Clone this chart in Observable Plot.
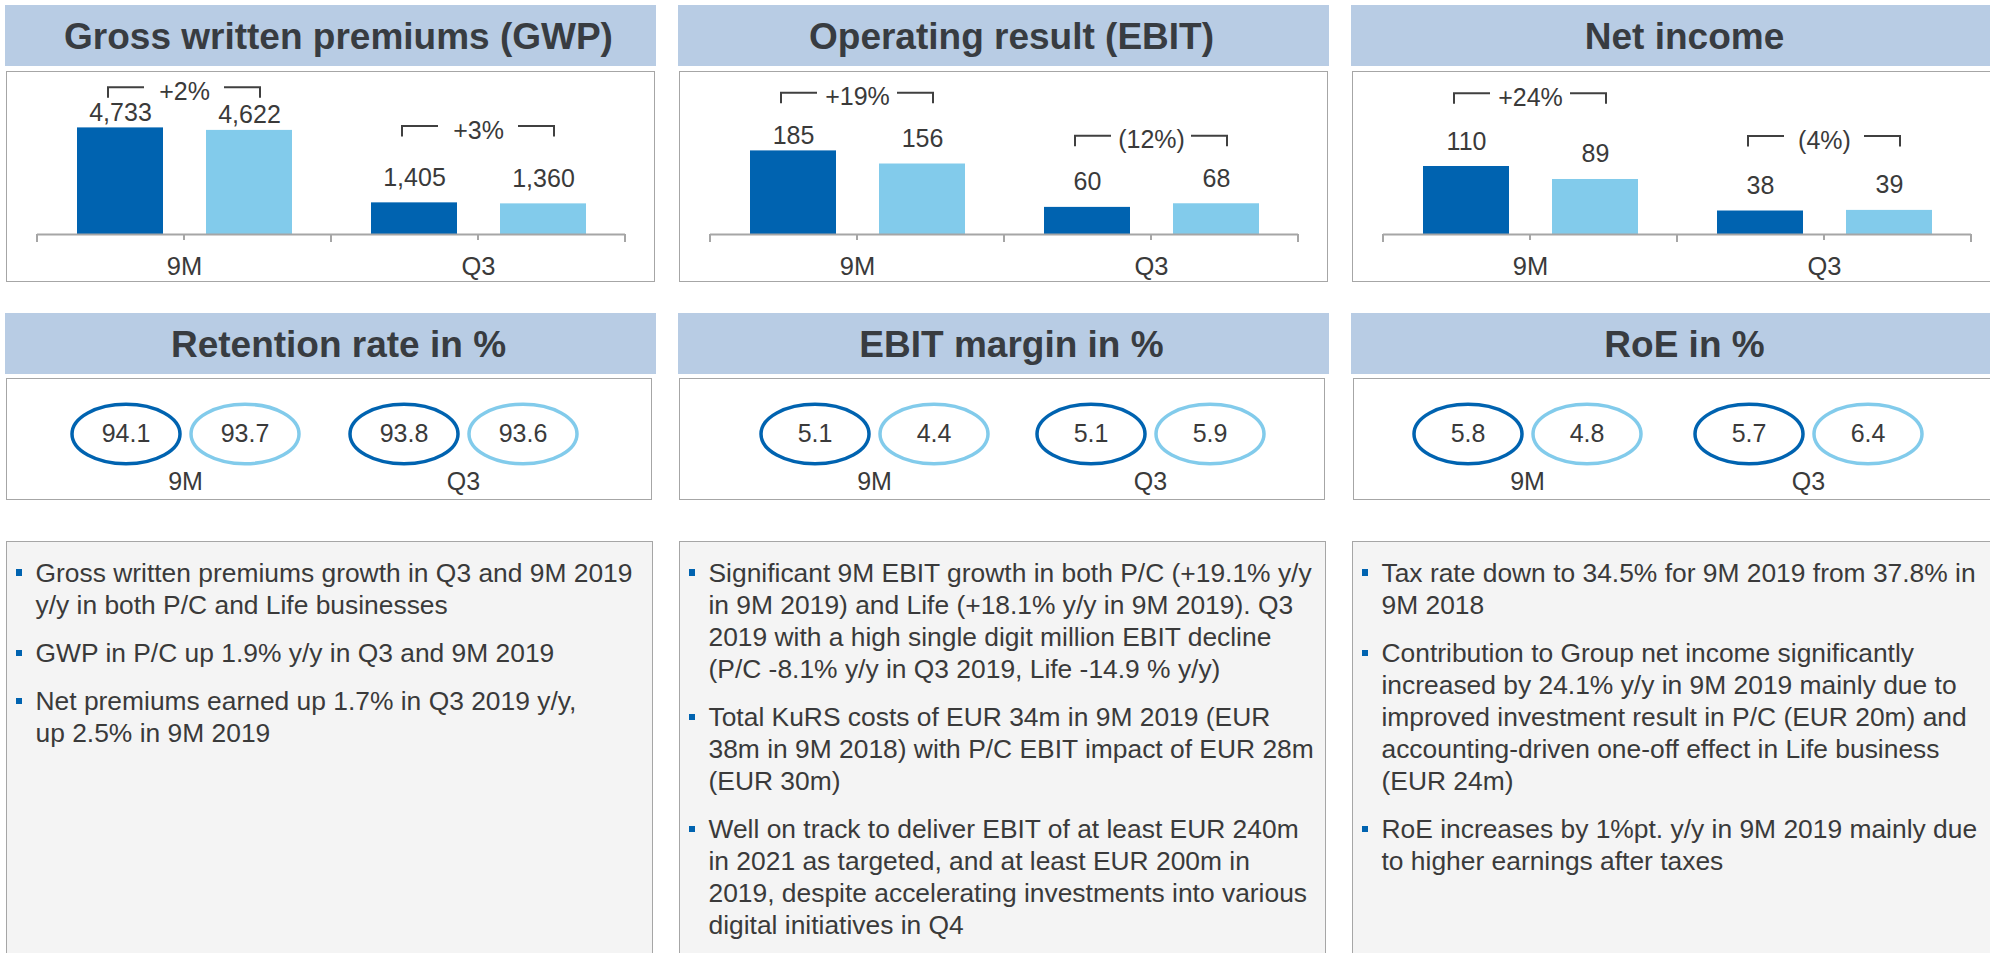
<!DOCTYPE html>
<html>
<head>
<meta charset="utf-8">
<script src="https://cdn.jsdelivr.net/npm/d3@7"></script>
<script src="https://cdn.jsdelivr.net/npm/@observablehq/plot@0.6"></script>
<style>
  html, body { margin: 0; padding: 0; background: #ffffff; }
  body { width: 1990px; height: 953px; overflow: hidden; position: relative;
         font-family: "Liberation Sans", Arial, Helvetica, sans-serif; color: #3a3a3a; }
  .titlebar { position: absolute; height: 61px; width: 651px; background: #b8cce4; color: #383c41;
              font-weight: bold; font-size: 37px; line-height: 64px; text-align: center;
              box-sizing: border-box; padding-left: 16px; white-space: nowrap; overflow: hidden; }
  .box { position: absolute; box-sizing: border-box; border: 1.5px solid #a6a6a6; background: #ffffff; }
  .box.notes { background: #f4f4f4; padding-top: 14.5px; }
  .chart { position: absolute; }
  .chart svg { display: block; overflow: visible; }
  .para { position: relative; padding-left: 28.5px; margin-bottom: 16.3px; font-size: 26.4px; line-height: 32px; color: #3a3a3a; }
  .para .line { white-space: nowrap; }
  .para .mark { position: absolute; left: 8.5px; top: 12.75px; width: 6.5px; height: 6.5px; background: #0063b0; }
</style>
</head>
<body>
<script>
// ---------------- data ----------------
const periods = ["9M", "Q3"];

const gwp2019 = [4733, 1405];
const gwp2018 = [4622, 1360];
const gwpChange = ["+2%", "+3%"];

const ebit2019 = [185, 60];
const ebit2018 = [156, 68];
const ebitChange = ["+19%", "(12%)"];

const netIncome2019 = [110, 38];
const netIncome2018 = [89, 39];
const netIncomeChange = ["+24%", "(4%)"];

const retention2019 = [94.1, 93.8];
const retention2018 = [93.7, 93.6];

const ebitMargin2019 = [5.1, 5.1];
const ebitMargin2018 = [4.4, 5.9];

const roe2019 = [5.8, 5.7];
const roe2018 = [4.8, 6.4];

const topTitles = ["Gross written premiums (GWP)", "Operating result (EBIT)", "Net income"];
const midTitles = ["Retention rate in %", "EBIT margin in %", "RoE in %"];

const gwpNotes = [
  ["Gross written premiums growth in Q3 and 9M 2019", "y/y in both P/C and Life businesses"],
  ["GWP in P/C up 1.9% y/y in Q3 and 9M 2019"],
  ["Net premiums earned up 1.7% in Q3 2019 y/y,", "up 2.5% in 9M 2019"]
];
const ebitNotes = [
  ["Significant 9M EBIT growth in both P/C (+19.1% y/y", "in 9M 2019) and Life (+18.1% y/y in 9M 2019). Q3",
   "2019 with a high single digit million EBIT decline", "(P/C -8.1% y/y in Q3 2019, Life -14.9 % y/y)"],
  ["Total KuRS costs of EUR 34m in 9M 2019 (EUR", "38m in 9M 2018) with P/C EBIT impact of EUR 28m", "(EUR 30m)"],
  ["Well on track to deliver EBIT of at least EUR 240m", "in 2021 as targeted, and at least EUR 200m in",
   "2019, despite accelerating investments into various", "digital initiatives in Q4"]
];
const netIncomeNotes = [
  ["Tax rate down to 34.5% for 9M 2019 from 37.8% in", "9M 2018"],
  ["Contribution to Group net income significantly", "increased by 24.1% y/y in 9M 2019 mainly due to",
   "improved investment result in P/C (EUR 20m) and", "accounting-driven one-off effect in Life business", "(EUR 24m)"],
  ["RoE increases by 1%pt. y/y in 9M 2019 mainly due", "to higher earnings after taxes"]
];

// ---------------- styles ----------------
const FONT = '"Liberation Sans", Arial, Helvetica, sans-serif';
const DARK = "#0063b0";
const LIGHT = "#82cbeb";
const TEXT = "#3a3a3a";
const AXIS = "#a6a6a6";
const INK = "#404040";

const colLeft = [5, 678, 1351];

function add(cls, left, top, width, height, parent = document.body) {
  const d = document.createElement("div");
  d.className = cls;
  d.style.left = left + "px";
  d.style.top = top + "px";
  if (width != null) d.style.width = width + "px";
  if (height != null) d.style.height = height + "px";
  parent.appendChild(d);
  return d;
}

function rows(cur, prev) {
  return periods.flatMap((p, i) => [
    {period: p, year: "2019", value: cur[i]},
    {period: p, year: "2018", value: prev[i]}
  ]);
}

// custom marks drawn from Plot's own x scale
function axisTicks(index, scales, values, dims) {
  const x = scales.x, bw = x.bandwidth(), y0 = dims.height - dims.marginBottom;
  const g = d3.create("svg:g").attr("stroke", AXIS).attr("stroke-width", 2).attr("fill", "none");
  const tick = (px, len) => g.append("line").attr("x1", px).attr("x2", px).attr("y1", y0).attr("y2", y0 + len);
  periods.forEach((p, i) => {
    const a = x(p);
    if (i === 0) tick(a, 8);
    tick(a + bw / 2, 6);
    tick(a + bw, 8);
  });
  return g.node();
}

function brackets(levels) {
  return (index, scales, values, dims) => {
    const x = scales.x, bw = x.bandwidth();
    const g = d3.create("svg:g").attr("stroke", INK).attr("stroke-width", 2).attr("fill", "none");
    periods.forEach(p => {
      const cx = x(p) + bw / 2, y0 = dims.marginTop + levels[p];
      g.append("path").attr("d",
        `M${cx - 76},${y0 + 10.5}V${y0}H${cx - 40}M${cx + 40},${y0}H${cx + 76}V${y0 + 10.5}`);
    });
    return g.node();
  };
}

function barChart(cfg) {
  const data = rows(cfg.cur, cfg.prev);
  const changes = periods.map((p, i) => ({period: p, label: cfg.change[i]}));
  const key = d => d.period + "-" + d.year;
  const labels = [];
  for (const [year, dx] of [["2019", -64], ["2018", 65]]) {
    const sub = data.filter(d => d.year === year);
    labels.push(Plot.text(sub, {filter: d => !cfg.tight.includes(key(d)), x: "period", y: "value",
      text: d => cfg.fmt(d.value), dx, dy: -17, lineAnchor: "bottom", fontSize: 25, fill: TEXT}));
    labels.push(Plot.text(sub, {filter: d => cfg.tight.includes(key(d)), x: "period", y: "value",
      text: d => cfg.fmt(d.value), dx, dy: -7, lineAnchor: "bottom", fontSize: 25, fill: TEXT}));
  }
  return Plot.plot({
    width: 649, height: 211,
    marginTop: 0, marginBottom: 48, marginLeft: 31, marginRight: 30,
    x: {domain: periods, padding: 0, axis: null},
    y: {domain: [0, cfg.yMax], axis: null},
    style: {fontFamily: FONT, background: "transparent", color: TEXT, overflow: "visible"},
    marks: [
      Plot.barY(data.filter(d => d.year === "2019"), {x: "period", y: "value", fill: DARK, insetLeft: 40, insetRight: 168}),
      Plot.barY(data.filter(d => d.year === "2018"), {x: "period", y: "value", fill: LIGHT, insetLeft: 169, insetRight: 39}),
      Plot.ruleY([0], {stroke: AXIS, strokeWidth: 2}),
      axisTicks,
      brackets(cfg.levels),
      ...periods.map(p => Plot.text(changes.filter(d => d.period === p), {x: "period", text: "label",
        frameAnchor: "top", lineAnchor: "bottom", dy: cfg.levels[p] + 12, fontSize: 25, fill: TEXT})),
      ...labels,
      Plot.text(periods, {x: d => d, text: d => d, frameAnchor: "bottom", lineAnchor: "bottom", dy: 40, fontSize: 25.5, fill: TEXT})
    ]
  });
}

// ellipse symbol for Plot.dot
const ASPECT = 1.815;
const ellipseSymbol = {
  draw(ctx, size) {
    const ry = Math.sqrt(size / Math.PI), rx = ry * ASPECT, k = 0.5522847;
    ctx.moveTo(rx, 0);
    ctx.bezierCurveTo(rx, k * ry, k * rx, ry, 0, ry);
    ctx.bezierCurveTo(-k * rx, ry, -rx, k * ry, -rx, 0);
    ctx.bezierCurveTo(-rx, -k * ry, -k * rx, -ry, 0, -ry);
    ctx.bezierCurveTo(k * rx, -ry, rx, -k * ry, rx, 0);
    ctx.closePath();
  }
};

function ovalChart(cfg) {
  const data = rows(cfg.cur, cfg.prev);
  const marks = [];
  for (const [year, dx, color] of [["2019", -59.5, DARK], ["2018", 59.5, LIGHT]]) {
    const sub = data.filter(d => d.year === year);
    marks.push(Plot.dot(sub, {x: "period", dx, r: 29.75, symbol: ellipseSymbol, stroke: color, strokeWidth: 3.5, fill: "white"}));
    marks.push(Plot.text(sub, {x: "period", dx, text: d => d.value.toFixed(1), fontSize: 25, fill: TEXT}));
  }
  marks.push(Plot.text(periods, {x: d => d, text: d => d, frameAnchor: "bottom", lineAnchor: "bottom", fontSize: 25, fill: TEXT}));
  return Plot.plot({
    width: 646, height: 122,
    marginTop: 0, marginBottom: 11, marginLeft: 0, marginRight: 0,
    x: {type: "point", domain: periods, range: cfg.range, padding: 0, axis: null},
    style: {fontFamily: FONT, background: "transparent", color: TEXT, overflow: "visible"},
    marks
  });
}

// ---------------- layout ----------------
const barCfgs = [
  {cur: gwp2019, prev: gwp2018, change: gwpChange, yMax: 7237, fmt: d3.format(","),
   levels: {"9M": 16.3, "Q3": 55}, tight: ["9M-2019", "9M-2018"]},
  {cur: ebit2019, prev: ebit2018, change: ebitChange, yMax: 360.7, fmt: d3.format(","),
   levels: {"9M": 21.7, "Q3": 64.7}, tight: ["9M-2019"]},
  {cur: netIncome2019, prev: netIncome2018, change: netIncomeChange, yMax: 263.7, fmt: d3.format(","),
   levels: {"9M": 22.3, "Q3": 65}, tight: []}
];
const ovalCfgs = [
  {cur: retention2019, prev: retention2018, range: [178.5, 456.5], left: 6},
  {cur: ebitMargin2019, prev: ebitMargin2018, range: [194.75, 471.5], left: 679},
  {cur: roe2019, prev: roe2018, range: [173.5, 454.5], left: 1353}
];
const notes = [gwpNotes, ebitNotes, netIncomeNotes];

colLeft.forEach((x0, c) => {
  // top row
  const t1 = add("titlebar", x0, 5);
  t1.textContent = topTitles[c];
  add("box", x0 + 1, 71, 649, 211);
  const ch1 = add("chart", x0 + 1, 71, 649, 211);
  ch1.appendChild(barChart(barCfgs[c]));

  // middle row
  const t2 = add("titlebar", x0, 313);
  t2.textContent = midTitles[c];
  const oc = ovalCfgs[c];
  add("box", oc.left, 378, 646, 122);
  const ch2 = add("chart", oc.left, 378, 646, 122);
  ch2.appendChild(ovalChart(oc));

  // bottom row
  const nb = add("box notes", x0 + 1, 541, 647, 420);
  notes[c].forEach(lines => {
    const p = document.createElement("div");
    p.className = "para";
    const m = document.createElement("div");
    m.className = "mark";
    p.appendChild(m);
    lines.forEach(s => {
      const l = document.createElement("div");
      l.className = "line";
      l.textContent = s;
      p.appendChild(l);
    });
    nb.appendChild(p);
  });
});
</script>
</body>
</html>
